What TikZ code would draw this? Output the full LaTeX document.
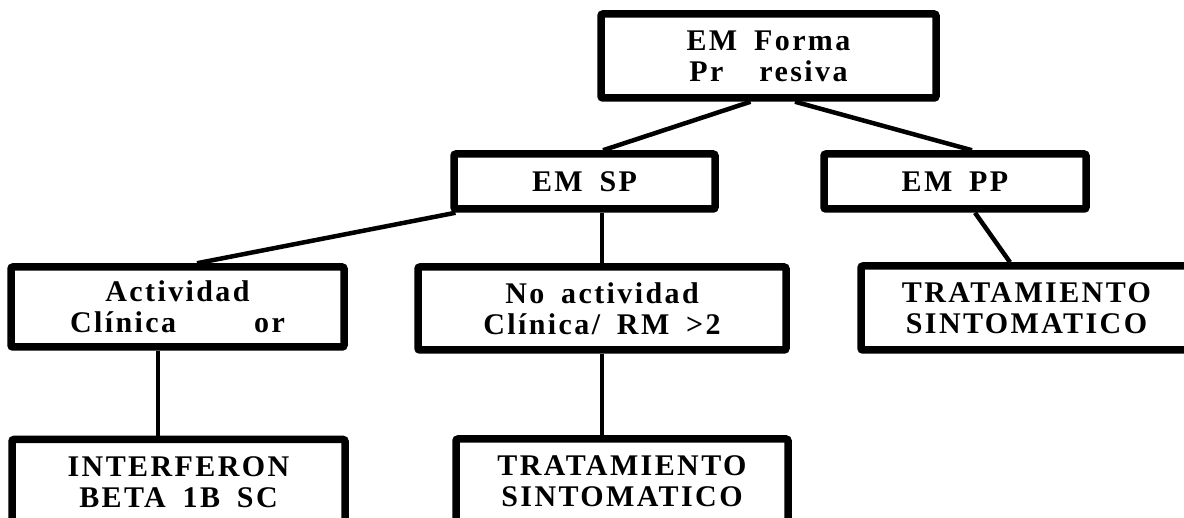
\documentclass[tikz,border=0pt]{standalone}
\usepackage{fontspec}
\setmainfont{Liberation Serif}
\newfontfamily\cajafont{Liberation Serif}[LetterSpace=8, WordSpace=1.7]
\usetikzlibrary{shapes}

\begin{document}
\begin{tikzpicture}[x=1pt, y=-1pt,
    caja/.style={draw, line width=7.5pt, rounded corners=2pt, align=center, inner sep=0pt,
      font=\cajafont\bfseries\fontsize{30}{31}\selectfont},
    linea/.style={line width=4.5pt}]
    \useasboundingbox (0,0) rectangle (1184,518);
    \clip (0,0) rectangle (1184,518);
    % boxes
    \node[caja, minimum width=335pt, minimum height=84pt] (forma) at (768.5,56) {EM Forma\\Pr\hspace{36pt}resiva};
    \node[caja, minimum width=261pt, minimum height=55pt] (emsp) at (584.5,181.5) {EM SP};
    \node[caja, minimum width=262pt, minimum height=55pt] (empp) at (955,181.5) {EM PP};
    \node[caja, minimum width=333pt, minimum height=80pt] (activ) at (177.5,307) {Actividad\\Clínica\hspace{78pt}or};
    \node[caja, minimum width=368pt, minimum height=83pt] (noactiv) at (602,308.5) {No actividad\\Clínica/ RM >2};
    \node[caja, minimum width=331pt, minimum height=84pt] (tratpp) at (1026.5,308) {TRATAMIENTO\\SINTOMATICO};
    \node[caja, minimum width=333pt, minimum height=85pt] (interf) at (178.5,482) {INTERFERON\\BETA 1B SC};
    \node[caja, minimum width=332pt, minimum height=85pt] (tratsp) at (622,481.5) {TRATAMIENTO\\SINTOMATICO};
    % lines
    \draw[linea] ([xshift=-18pt]forma.south) -- ([xshift=18.5pt]emsp.north);
    \draw[linea] ([xshift=26.5pt]forma.south) -- ([xshift=17pt]empp.north);
    \draw[linea] ([xshift=-129pt]emsp.south) -- ([xshift=19.5pt]activ.north);
    \draw[linea] ([xshift=17.5pt]emsp.south) -- (noactiv.north);
    \draw[linea] ([xshift=20pt]empp.south) -- ([xshift=-16.5pt]tratpp.north);
    \draw[linea] ([xshift=-19.5pt]activ.south) -- ([xshift=-20.5pt]interf.north);
    \draw[linea] (noactiv.south) -- ([xshift=-20pt]tratsp.north);
\end{tikzpicture}
\end{document}
